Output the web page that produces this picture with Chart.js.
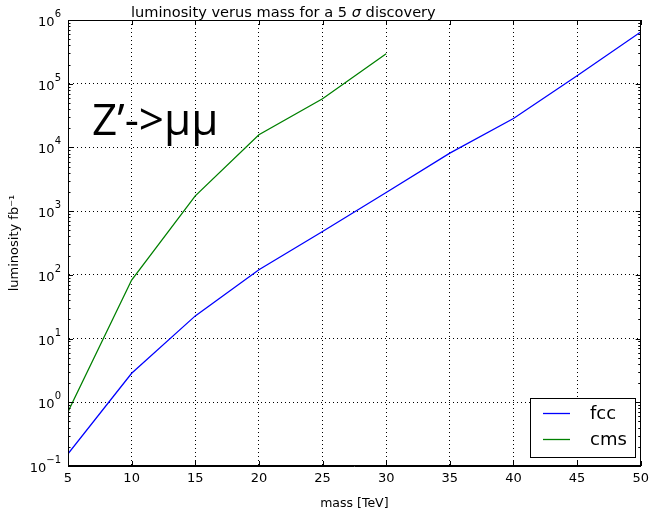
<!DOCTYPE html>
<html>
<head>
<meta charset="utf-8">
<script src="https://cdn.jsdelivr.net/npm/chart.js@4/dist/chart.umd.min.js"></script>
<style>
  html, body { margin: 0; padding: 0; background: #fff; }
  #wrap { width: 654px; height: 519px; }
</style>
</head>
<body>
<div id="wrap"><canvas id="lumiChart" width="654" height="519"></canvas></div>
<script>
// ---- data ----
const massTeV = [5, 10, 15, 20, 25, 30, 35, 40, 45, 50];
const fccLumi = [0.155, 2.85, 22.7, 120, 480, 1960, 8150, 28500, 133000, 650000];
const cmsMass = [5, 10, 15, 20, 25, 30];
const cmsLumi = [0.71, 83, 1740, 15800, 58000, 296000];
const xTicks = [5, 10, 15, 20, 25, 30, 35, 40, 45, 50];
const yDecades = [-1, 0, 1, 2, 3, 4, 5, 6];

const FONT = "'DejaVu Sans', sans-serif";

function isDecade(v) {
    const l = Math.log10(v);
    return Math.abs(l - Math.round(l)) < 1e-6;
}

// custom drawing: frame, title, inner ticks, y labels, annotation, legend box
const decorPlugin = {
    id: 'decor',
    afterDraw(chart) {
        const ctx = chart.ctx;
        const area = chart.chartArea;
        const xs = chart.scales.x;
        const ys = chart.scales.y;
        ctx.save();
        ctx.setLineDash([]);
        ctx.strokeStyle = '#000';
        ctx.lineWidth = 1;

        // solid frame round the axes
        const fl = Math.round(area.left) + 0.5, ft = Math.round(area.top) + 0.5;
        const fr = Math.round(area.right) - 0.5, fb = Math.round(area.bottom) - 0.5;
        ctx.strokeRect(fl, ft, fr - fl, fb - ft);

        // x ticks inside, bottom and top
        xTicks.forEach(t => {
            const px = Math.round(xs.getPixelForValue(t)) + 0.5;
            ctx.beginPath();
            ctx.moveTo(px, area.bottom); ctx.lineTo(px, area.bottom - 5);
            ctx.moveTo(px, area.top); ctx.lineTo(px, area.top + 5);
            ctx.stroke();
        });

        // y ticks inside, major and minor, left and right
        yDecades.forEach(d => {
            for (let m = 1; m <= 9; m++) {
                const v = m * Math.pow(10, d);
                if (v > 1e6 * 1.0001) continue;
                const py = Math.round(ys.getPixelForValue(v)) + 0.5;
                const len = m === 1 ? 5 : 2.5;
                ctx.beginPath();
                ctx.moveTo(area.left, py); ctx.lineTo(area.left + len, py);
                ctx.moveTo(area.right, py); ctx.lineTo(area.right - len, py);
                ctx.stroke();
            }
        });

        // y tick labels 10^n
        ctx.fillStyle = '#000';
        ctx.textBaseline = 'alphabetic';
        yDecades.forEach(d => {
            const py = ys.getPixelForValue(Math.pow(10, d));
            const sup = String(d).replace('-', '\u2212');
            ctx.font = '10px ' + FONT;
            const supW = ctx.measureText(sup).width;
            const right = area.left - 7;
            ctx.textAlign = 'right';
            ctx.fillText(sup, right, py - 3);
            ctx.font = '13px ' + FONT;
            ctx.fillText('10', right - supW, py + 6);
        });

        // title
        ctx.textAlign = 'left';
        ctx.font = '14.6px ' + FONT;
        let tx = 131;
        const part1 = 'luminosity verus mass for a 5 ';
        ctx.fillText(part1, tx, 17);
        tx += ctx.measureText(part1).width;
        ctx.font = 'italic 14.6px ' + FONT;
        ctx.fillText('\u03c3', tx, 17);
        tx += ctx.measureText('\u03c3').width;
        ctx.font = '14.6px ' + FONT;
        ctx.fillText(' discovery', tx, 17);

        // annotation
        ctx.font = "44px 'Open Sans', sans-serif";
        ctx.fillText('Z\u2019->\u03bc\u03bc', 92, 135);

        // legend
        const lx = 530, ly = 398, lw = 105, lh = 59;
        ctx.fillStyle = '#fff';
        ctx.fillRect(lx, ly, lw, lh);
        ctx.strokeStyle = '#000';
        ctx.strokeRect(lx + 0.5, ly + 0.5, lw, lh);
        chart.data.datasets.forEach((ds, i) => {
            const yy = ly + 15.5 + i * 26;
            ctx.strokeStyle = ds.borderColor;
            ctx.lineWidth = 1.3;
            ctx.beginPath();
            ctx.moveTo(lx + 13, yy); ctx.lineTo(lx + 40, yy);
            ctx.stroke();
            ctx.fillStyle = '#000';
            ctx.font = '18px ' + FONT;
            ctx.textBaseline = 'middle';
            ctx.fillText(ds.label, lx + 60, yy + 1);
        });
        ctx.restore();
    }
};

new Chart(document.getElementById('lumiChart'), {
    type: 'line',
    data: {
        datasets: [
            {
                label: 'fcc',
                data: massTeV.map((m, i) => ({ x: m, y: fccLumi[i] })),
                borderColor: '#0000ff',
                borderWidth: 1.3,
                pointRadius: 0,
                tension: 0
            },
            {
                label: 'cms',
                data: cmsMass.map((m, i) => ({ x: m, y: cmsLumi[i] })),
                borderColor: '#008000',
                borderWidth: 1.3,
                pointRadius: 0,
                tension: 0
            }
        ]
    },
    options: {
        responsive: false,
        animation: false,
        events: [],
        layout: { padding: { top: 20, right: 10, left: 0, bottom: 0 } },
        plugins: {
            legend: { display: false },
            title: { display: false },
            tooltip: { enabled: false }
        },
        scales: {
            x: {
                type: 'linear',
                min: 5,
                max: 50,
                afterFit: s => { s.height = 53; },
                afterBuildTicks: s => { s.ticks = xTicks.map(v => ({ value: v })); },
                ticks: { color: '#000', font: { family: FONT, size: 13 }, padding: 5, maxRotation: 0 },
                grid: {
                    drawTicks: false,
                    color: '#000',
                    lineWidth: 1
                },
                border: { color: '#000', width: 1, dash: [1, 3] },
                title: {
                    display: true,
                    text: 'mass [TeV]',
                    color: '#000',
                    font: { family: FONT, size: 12.5 },
                    padding: { top: 0, bottom: 8 }
                }
            },
            y: {
                type: 'logarithmic',
                min: 0.1,
                max: 1e6,
                afterFit: s => { s.width = 68; },
                ticks: { display: false },
                grid: {
                    drawTicks: false,
                    color: c => (c.tick && isDecade(c.tick.value)) ? '#000' : 'rgba(0,0,0,0)',
                    lineWidth: 1
                },
                border: { color: '#000', width: 1, dash: [1, 3] },
                title: {
                    display: true,
                    text: 'luminosity fb\u207b\u00b9',
                    color: '#000',
                    font: { family: FONT, size: 13 },
                    padding: { top: 7, bottom: 0 }
                }
            }
        }
    },
    plugins: [decorPlugin]
});
</script>
</body>
</html>
